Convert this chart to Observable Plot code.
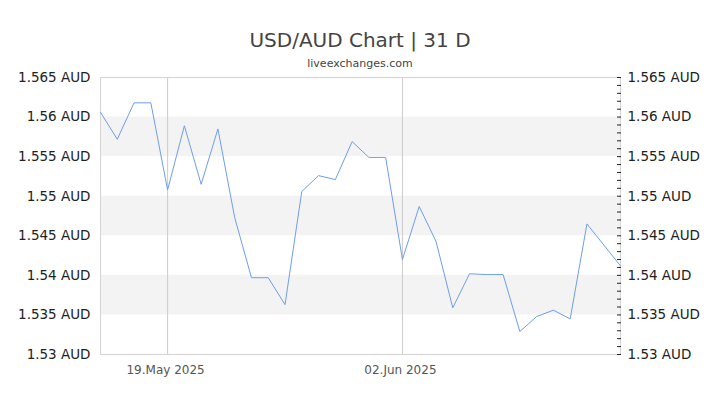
<!DOCTYPE html>
<html>
<head>
<meta charset="utf-8">
<script src="https://cdn.jsdelivr.net/npm/d3@7"></script>
<script src="https://cdn.jsdelivr.net/npm/@observablehq/plot@0.6"></script>
<style>
  body { margin: 0; background: #fff; font-family: "DejaVu Sans", sans-serif; }
  #head { width: 720px; height: 70px; position: relative; }
  #title { position: absolute; top: 28px; width: 100%; text-align: center; font-size: 20px; color: #444; }
  #sub { position: absolute; top: 57px; width: 100%; text-align: center; font-size: 11px; color: #444; }
</style>
</head>
<body>
<div id="head">
  <div id="title">USD/AUD Chart | 31 D</div>
  <div id="sub">liveexchanges.com</div>
</div>
<div id="chart"></div>
<script>
const dates = [
  "2025-05-15","2025-05-16","2025-05-17","2025-05-18","2025-05-19","2025-05-20","2025-05-21",
  "2025-05-22","2025-05-23","2025-05-24","2025-05-25","2025-05-26","2025-05-27","2025-05-28",
  "2025-05-29","2025-05-30","2025-05-31","2025-06-01","2025-06-02","2025-06-03","2025-06-04",
  "2025-06-05","2025-06-06","2025-06-07","2025-06-08","2025-06-09","2025-06-10","2025-06-11",
  "2025-06-12","2025-06-13","2025-06-15"
];
const rates = [
  1.5606, 1.5572, 1.5618, 1.5618, 1.5508, 1.5589, 1.5515,
  1.5585, 1.5473, 1.5397, 1.5397, 1.5363, 1.5506, 1.5526,
  1.5521, 1.5569, 1.5549, 1.5549, 1.5420, 1.5487, 1.5443,
  1.5359, 1.5402, 1.5401, 1.5401, 1.5329, 1.5348, 1.5356,
  1.5345, 1.5465, 1.5412
];
const xDomain = ["2025-05-15", "2025-06-15"];
const yTicks = [1.53, 1.535, 1.54, 1.545, 1.55, 1.555, 1.56, 1.565];
const minorTicks = [1.530,1.531,1.532,1.533,1.534,1.535,1.536,1.537,1.538,1.539,1.540,1.541,1.542,1.543,1.544,1.545,1.546,1.547,1.548,1.549,1.550,1.551,1.552,1.553,1.554,1.555,1.556,1.557,1.558,1.559,1.560,1.561,1.562,1.563,1.564,1.565];
const bandLo = [1.535, 1.545, 1.555];
const bandHi = [1.54, 1.55, 1.56];
const gridDates = ["2025-05-19", "2025-06-02"];

const parse = d3.utcParse("%Y-%m-%d");
const data = dates.map((d, i) => ({date: parse(d), rate: rates[i]}));
const bands = bandLo.map((lo, i) => ({lo, hi: bandHi[i]}));
const grid = gridDates.map(parse);
const fmtY = d => `${+d.toFixed(3)} AUD`;

const chart = Plot.plot({
  width: 720,
  height: 335,
  marginTop: 7,
  marginBottom: 51,
  marginLeft: 100,
  marginRight: 100,
  style: {fontFamily: "DejaVu Sans", fontSize: "13.5px", color: "#222", overflow: "visible"},
  x: {type: "utc", domain: xDomain.map(parse)},
  y: {domain: [1.53, 1.565]},
  marks: [
    Plot.rect(bands, {y1: "lo", y2: "hi", fill: "#f3f3f3"}),
    Plot.ruleX(grid, {stroke: "#cccccc", strokeWidth: 1}),
    Plot.frame({stroke: "#d3d3d3"}),
    Plot.axisY(yTicks, {anchor: "left", tickSize: 0, tickPadding: 10, tickFormat: fmtY, fill: "#222", label: null}),
    Plot.axisY(yTicks, {anchor: "right", tickSize: 0, tickPadding: 7, tickFormat: fmtY, fill: "#222", label: null}),
    Plot.axisY(minorTicks, {anchor: "right", tickSize: 4, dx: -4, tickFormat: () => "", stroke: "#222", label: null}),
    Plot.axisX(grid, {anchor: "bottom", tickSize: 0, tickPadding: 11, dx: -2, tickFormat: d3.utcFormat("%d.%b %Y"), fontSize: 12, fill: "#555", label: null}),
    Plot.line(data, {x: "date", y: "rate", stroke: "#6d9eeb", strokeWidth: 1})
  ]
});
document.getElementById("chart").appendChild(chart);
</script>
</body>
</html>
